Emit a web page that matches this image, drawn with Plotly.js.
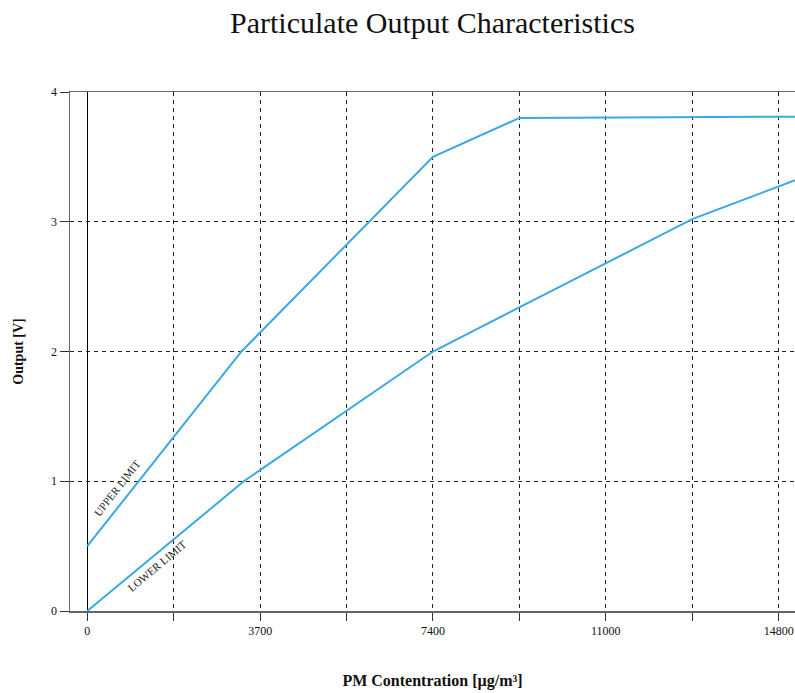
<!DOCTYPE html>
<html>
<head>
<meta charset="utf-8">
<script src="https://cdn.plot.ly/plotly-3.0.1.min.js"></script>
<style>html,body{margin:0;padding:0;background:#fff;}#chart{width:795px;height:693px;}</style>
</head>
<body>
<div id="chart"></div>
<script>
// Data
const upperX = [0, 3300, 7400, 9250, 15150];
const upperY = [0.5, 2.0, 3.5, 3.8, 3.81];
const lowerX = [0, 3350, 7400, 12950, 15150];
const lowerY = [0.0, 1.0, 2.0, 3.02, 3.32];
const xTickVals = [0, 1850, 3700, 5550, 7400, 9250, 11100, 12950, 14800];
const xTickText = ['0', '', '3700', '', '7400', '', '11000', '', '14800'];
const yTickVals = [0, 1, 2, 3, 4];
const yTickText = ['0', '1', '2', '3', '4'];
const seriesNames = ['UPPER LIMIT', 'LOWER LIMIT'];

const lineColor = '#3BA7E3';
const serif = 'Liberation Serif, Times New Roman, serif';

const traces = [
  {x: upperX, y: upperY, name: seriesNames[0], mode: 'lines', line: {color: lineColor, width: 2}, hoverinfo: 'x+y'},
  {x: lowerX, y: lowerY, name: seriesNames[1], mode: 'lines', line: {color: lineColor, width: 2}, hoverinfo: 'x+y'}
];

const layout = {
  width: 795, height: 693,
  margin: {l: 70, r: 0, t: 92, b: 82},
  paper_bgcolor: '#fff', plot_bgcolor: '#fff',
  showlegend: false,
  title: {text: 'Particulate Output Characteristics', font: {family: serif, size: 30, color: '#111'}, x: 0.544, xanchor: 'center', y: 0.968, yanchor: 'middle'},
  xaxis: {
    range: [-370, 15150],
    tickmode: 'array', tickvals: xTickVals, ticktext: xTickText,
    ticks: 'outside', ticklen: 8, tickcolor: '#333', tickwidth: 1,
    showline: true, linecolor: '#666', linewidth: 1.5, mirror: true,
    showgrid: true, gridcolor: '#222', gridwidth: 1, griddash: '4px,4px',
    zeroline: true, zerolinecolor: '#000', zerolinewidth: 1,
    tickfont: {family: serif, size: 12, color: '#111'},
    title: {text: '<b>PM Contentration [µg/m³]</b>', font: {family: serif, size: 16, color: '#111'}, standoff: 38}
  },
  yaxis: {
    range: [0, 4],
    tickmode: 'array', tickvals: yTickVals, ticktext: yTickText,
    ticks: 'outside', ticklen: 9, tickcolor: '#333', tickwidth: 1,
    showline: true, linecolor: '#666', linewidth: 1.5,
    showgrid: true, gridcolor: '#222', gridwidth: 1, griddash: '4px,4px',
    zeroline: false,
    tickfont: {family: serif, size: 12, color: '#111'},
    title: {text: '<b>Output [V]</b>', font: {family: serif, size: 14, color: '#111'}, standoff: 24}
  },
  annotations: [
    {x: 637, y: 0.95, xref: 'x', yref: 'y', text: seriesNames[0], showarrow: false, textangle: -52, font: {family: serif, size: 11, color: '#222'}},
    {x: 1494, y: 0.344, xref: 'x', yref: 'y', text: seriesNames[1], showarrow: false, textangle: -40, font: {family: serif, size: 11, color: '#222'}}
  ]
};

Plotly.newPlot('chart', traces, layout, {displayModeBar: false, staticPlot: true});
</script>
</body>
</html>
